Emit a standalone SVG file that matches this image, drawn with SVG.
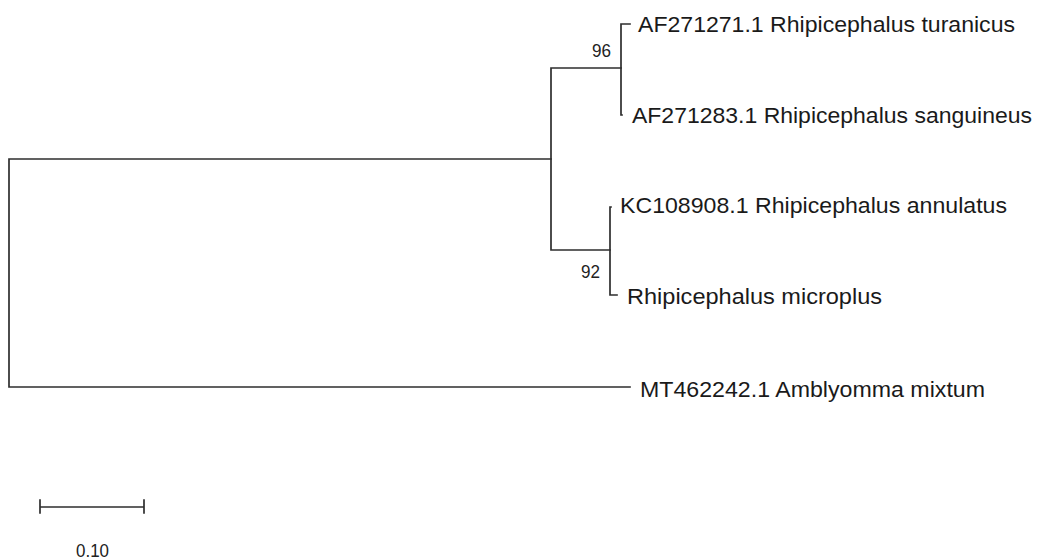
<svg xmlns="http://www.w3.org/2000/svg" width="1037" height="559" viewBox="0 0 1037 559">
<style>
.br{fill:none;stroke:#2e2e2e;stroke-width:1.7;stroke-linecap:square}
.lbl{font-family:"Liberation Sans",Arial,sans-serif;font-size:22px;fill:#1a1a1a}
.bs{font-family:"Liberation Sans",Arial,sans-serif;font-size:18.5px;fill:#222}
</style>
<rect width="1037" height="559" fill="#fff"/>
<g id="connectors">
<path class="br" d="M9,159 V387 M9,159 H551 M9,387 H630"/>
<path class="br" d="M551,68 V250 M551,68 H621 M551,250 H610"/>
<path class="br" d="M621,24 V115 M621,24 H630 M621,115 H622"/>
<path class="br" d="M610,207 V295 M610,207 H611 M610,295 H617"/>
</g>
<g id="node-turanicus"><text class="lbl" x="638" y="32" textLength="377" lengthAdjust="spacingAndGlyphs">AF271271.1 Rhipicephalus turanicus</text></g>
<g id="node-sanguineus"><text class="lbl" x="632" y="123" textLength="400" lengthAdjust="spacingAndGlyphs">AF271283.1 Rhipicephalus sanguineus</text></g>
<g id="node-annulatus"><text class="lbl" x="620" y="213" textLength="387" lengthAdjust="spacingAndGlyphs">KC108908.1 Rhipicephalus annulatus</text></g>
<g id="node-microplus"><text class="lbl" x="627" y="304" textLength="255" lengthAdjust="spacingAndGlyphs">Rhipicephalus microplus</text></g>
<g id="node-mixtum"><text class="lbl" x="640" y="397" textLength="345" lengthAdjust="spacingAndGlyphs">MT462242.1 Amblyomma mixtum</text></g>
<g id="bootstrap-96"><text class="bs" x="592" y="57" textLength="19" lengthAdjust="spacingAndGlyphs">96</text></g>
<g id="bootstrap-92"><text class="bs" x="581" y="278" textLength="19" lengthAdjust="spacingAndGlyphs">92</text></g>
<g id="scale-bar">
<path class="br" d="M40,507 H144 M40,500 V513 M144,500 V513"/>
<text class="bs" x="76" y="557" textLength="33" lengthAdjust="spacingAndGlyphs">0.10</text>
</g>
</svg>
